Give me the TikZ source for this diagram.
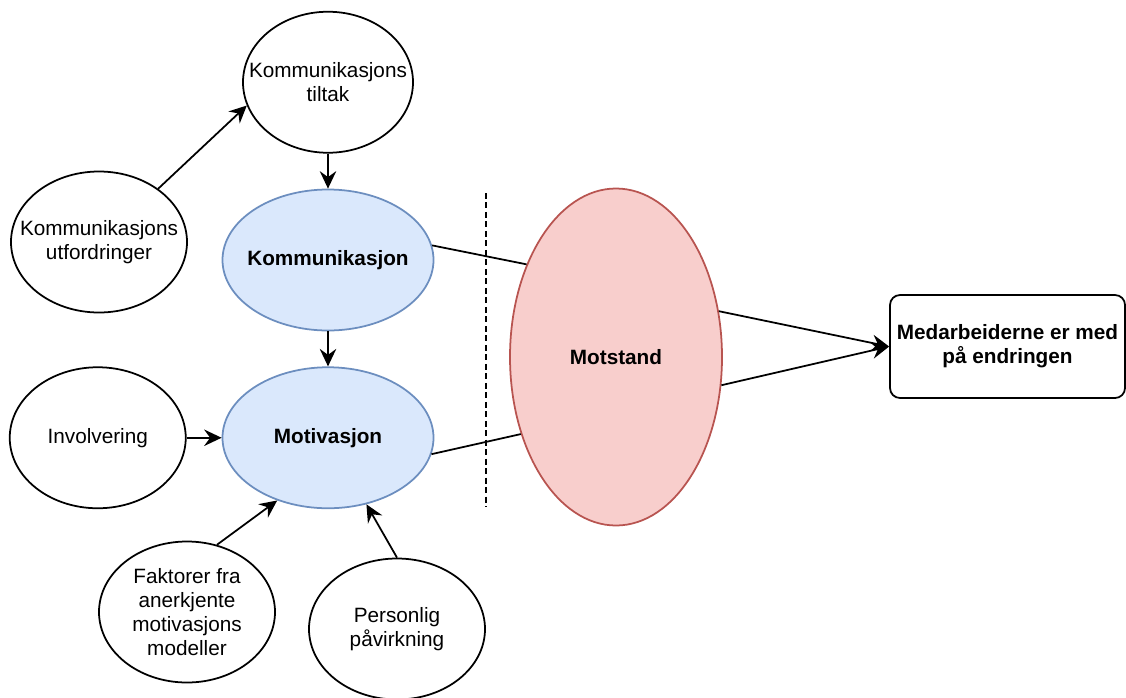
\documentclass[tikz,border=0pt]{standalone}
\usepackage{fontspec}
\setmainfont{Liberation Sans}
\usetikzlibrary{positioning,arrows.meta,shapes.geometric}

\definecolor{commfill}{HTML}{DAE8FC}
\definecolor{commline}{HTML}{6C8EBF}
\definecolor{resfill}{HTML}{F8CECC}
\definecolor{resline}{HTML}{B85450}

\tikzset{
bubble/.style={ellipse, draw, line width=1pt, align=center,
  inner xsep=-0.6cm, inner ysep=0pt,
  minimum width=3.52cm, minimum height=2.82cm},
boldtext/.style={font=\fontsize{11.8}{13.8}\selectfont\bfseries}
}

\begin{document}
\begin{tikzpicture}[
node distance=0.7cm,
>={Stealth[length=3.5mm, width=3.3mm, inset=1.2mm]},
every node/.style={font=\fontsize{11.8}{13.8}\selectfont}
]

\useasboundingbox (0,0) rectangle (22.52,-13.94);

\node[bubble, boldtext, fill=commfill, draw=commline,
minimum width=4.22cm] (komm) at (6.56,-5.20)
{Kommunikasjon};

\node[bubble, above=of komm,
minimum width=3.4cm] (tiltak)
{Kommunikasjons\\tiltak};

\node[bubble, boldtext, fill=commfill, draw=commline,
below=of komm,
minimum width=4.22cm] (motiv)
{Motivasjon};

\node[bubble, left=of motiv] (inv)
{Involvering};

\node[bubble] (utf) at (1.98,-4.84)
{Kommunikasjons\\utfordringer};

\node[bubble] (fakt) at (3.74,-12.24)
{Faktorer fra\\anerkjente\\motivasjons\\modeller};

\node[bubble] (pers) at (7.94,-12.58)
{Personlig\\påvirkning};

\node[bubble, boldtext, fill=resfill, draw=resline,
minimum width=4.24cm,
minimum height=6.74cm] (motst) at (12.32,-7.14)
{Motstand};

\node[draw, boldtext, rounded corners=0.2cm, line width=1pt,
align=center, inner sep=2pt,
minimum width=4.7cm,
minimum height=2.06cm] (result) at (20.15,-6.93)
{Medarbeiderne er med\\på endringen};

\coordinate (divtop) at (9.72,-3.86);
\coordinate (divbot) at (9.72,-10.14);

\draw[dash pattern=on 3.4pt off 2pt, line width=0.9pt] (divtop) -- (divbot);

\draw[->, line width=1pt] (utf.42) -- (tiltak.196);
\draw[->, line width=1pt] (tiltak.south) -- (komm.north);
\draw[->, line width=1pt] (komm.south) -- (motiv.north);
\draw[->, line width=1pt] (inv.east) -- (motiv.west);
\draw[->, line width=1pt] (fakt.66) -- (motiv.231);
\draw[->, line width=1pt] (pers.north) -- (motiv.300);
\draw[line width=1pt] (komm.8) -- (motst.134);
\draw[line width=1pt] (motiv.-9.5) -- (motst.219);
\draw[->, line width=1pt] (motst.24) -- (result.west);
\draw[->, line width=1pt] (motst.-15.6) -- (result.west);

\end{tikzpicture}
\end{document}
